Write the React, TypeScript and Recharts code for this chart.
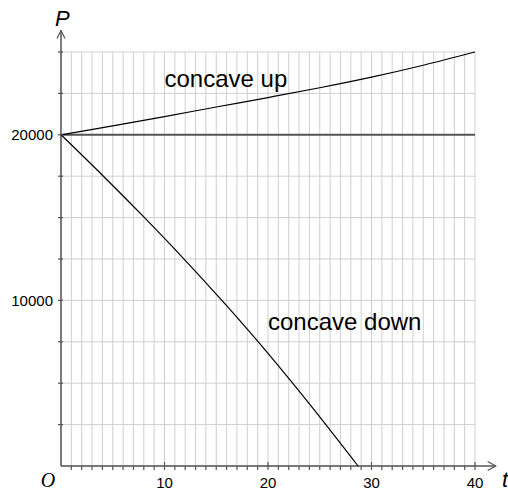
import { LineChart, Line, XAxis, YAxis, CartesianGrid, ReferenceLine, ReferenceDot } from "recharts"

// axis ticks
const tTicks = [
  0, 1, 2, 3, 4, 5, 6, 7, 8, 9, 10, 11, 12, 13, 14, 15, 16, 17, 18, 19, 20,
  21, 22, 23, 24, 25, 26, 27, 28, 29, 30, 31, 32, 33, 34, 35, 36, 37, 38, 39, 40,
]
const tLabels = [10, 20, 30, 40]
const pTicks = [0, 2500, 5000, 7500, 10000, 12500, 15000, 17500, 20000, 22500, 25000]
const pLabels = [10000, 20000]

// series
const upT = [0, 5, 10, 15, 20, 25, 30, 35, 40]
const upP = [20000, 20540, 21100, 21680, 22250, 22840, 23480, 24200, 25000]
const downT = [0, 4, 8, 12, 16, 20, 24, 28.7]
const downP = [20000, 17560, 15040, 12420, 9680, 6800, 3750, 0]
const flatT = [0, 40]
const flatP = [20000, 20000]

// curve annotations (t, P at text baseline)
const notes = [
  { text: "concave up", t: 10, p: 22900 },
  { text: "concave down", t: 20, p: 8200 },
]

const toRows = (ts: number[], ps: number[]) => ts.map((t, i) => ({ t, p: ps[i] }))
const upData = toRows(upT, upP)
const downData = toRows(downT, downP)
const flatData = toRows(flatT, flatP)

const SANS = '"Liberation Sans", Arial, sans-serif'
const AXIS = "#555"

const TTick = (props: any) => {
  const { x, y, payload } = props
  const v = payload.value
  if (v === 0) {
    return (
      <text x={x - 13} y={y + 21} textAnchor="middle" fontFamily='"Liberation Serif", serif' fontStyle="italic" fontSize={20} fill="#000">
        O
      </text>
    )
  }
  const major = tLabels.includes(v)
  return (
    <g>
      <line x1={x} x2={x} y1={major ? y - 4 : y} y2={y + 4} stroke={AXIS} strokeWidth={1.2} />
      {major && (
        <text x={x} y={y + 22} textAnchor="middle" fontFamily={SANS} fontSize={15} fill="#000">
          {v}
        </text>
      )}
    </g>
  )
}

const PTick = (props: any) => {
  const { x, y, payload } = props
  const v = payload.value
  return (
    <g>
      {v !== 0 && <line x1={x - 3} x2={x + 2} y1={y} y2={y} stroke={AXIS} strokeWidth={1.2} />}
      {pLabels.includes(v) && (
        <text x={x - 8} y={y + 5.5} textAnchor="end" fontFamily={SANS} fontSize={15} fill="#000">
          {v}
        </text>
      )}
    </g>
  )
}

const ArrowX = (props: any) => {
  const { x1, y1, x2, y2 } = props
  return (
    <g fill="none" stroke={AXIS}>
      <line x1={x1} y1={y1} x2={x2} y2={y2} strokeWidth={1.5} />
      <polyline points={`${x2 - 8},${y2 - 4.5} ${x2},${y2} ${x2 - 8},${y2 + 4.5}`} strokeWidth={1.2} />
    </g>
  )
}

const ArrowY = (props: any) => {
  const { x1, y1, x2, y2 } = props
  return (
    <g fill="none" stroke={AXIS}>
      <line x1={x1} y1={y1} x2={x2} y2={y2} strokeWidth={1.5} />
      <polyline points={`${x2 - 4},${y2 + 8} ${x2},${y2} ${x2 + 4},${y2 + 8}`} strokeWidth={1.2} />
    </g>
  )
}

export default function App() {
  return (
    <div style={{ position: "absolute", left: 0, top: 0, width: 508, height: 492, background: "#fff" }}>
      <LineChart width={508} height={492} margin={{ top: 52, right: 33, bottom: 0, left: 0 }}>
        <CartesianGrid stroke="#cfcfcf" strokeWidth={1} />
        <XAxis
          type="number"
          dataKey="t"
          domain={[0, 40]}
          ticks={tTicks}
          interval={0}
          height={26}
          axisLine={false}
          tickLine={false}
          tickSize={0}
          tickMargin={0}
          tick={<TTick />}
          label={{
            content: ({ viewBox }: any) => (
              <text x={viewBox.x + viewBox.width + 27} y={viewBox.y + 21} fontFamily={SANS} fontStyle="italic" fontSize={22} fill="#000">
                t
              </text>
            ),
          }}
        />
        <YAxis
          type="number"
          dataKey="p"
          domain={[0, 25000]}
          ticks={pTicks}
          interval={0}
          width={61}
          axisLine={false}
          tickLine={false}
          tickSize={0}
          tickMargin={0}
          tick={<PTick />}
          label={{
            content: ({ viewBox }: any) => (
              <text x={viewBox.x + viewBox.width - 6} y={viewBox.y - 26} fontFamily={SANS} fontStyle="italic" fontSize={22} fill="#000">
                P
              </text>
            ),
          }}
        />
        <ReferenceLine segment={[{ x: 0, y: 0 }, { x: 42, y: 0 }]} ifOverflow="visible" shape={<ArrowX />} />
        <ReferenceLine segment={[{ x: 0, y: 0 }, { x: 0, y: 26300 }]} ifOverflow="visible" shape={<ArrowY />} />
        <Line data={flatData} dataKey="p" stroke={AXIS} strokeWidth={2} dot={false} isAnimationActive={false} />
        <Line data={upData} dataKey="p" type="monotone" stroke="#000" strokeWidth={1.2} dot={false} isAnimationActive={false} />
        <Line data={downData} dataKey="p" type="monotone" stroke="#000" strokeWidth={1.2} dot={false} isAnimationActive={false} />
        {notes.map((n) => (
          <ReferenceDot
            key={n.text}
            x={n.t}
            y={n.p}
            r={0}
            ifOverflow="visible"
            shape={(s: any) => (
              <text x={s.cx} y={s.cy} fontFamily={SANS} fontSize={24} fill="#000">
                {n.text}
              </text>
            )}
          />
        ))}
      </LineChart>
    </div>
  )
}
